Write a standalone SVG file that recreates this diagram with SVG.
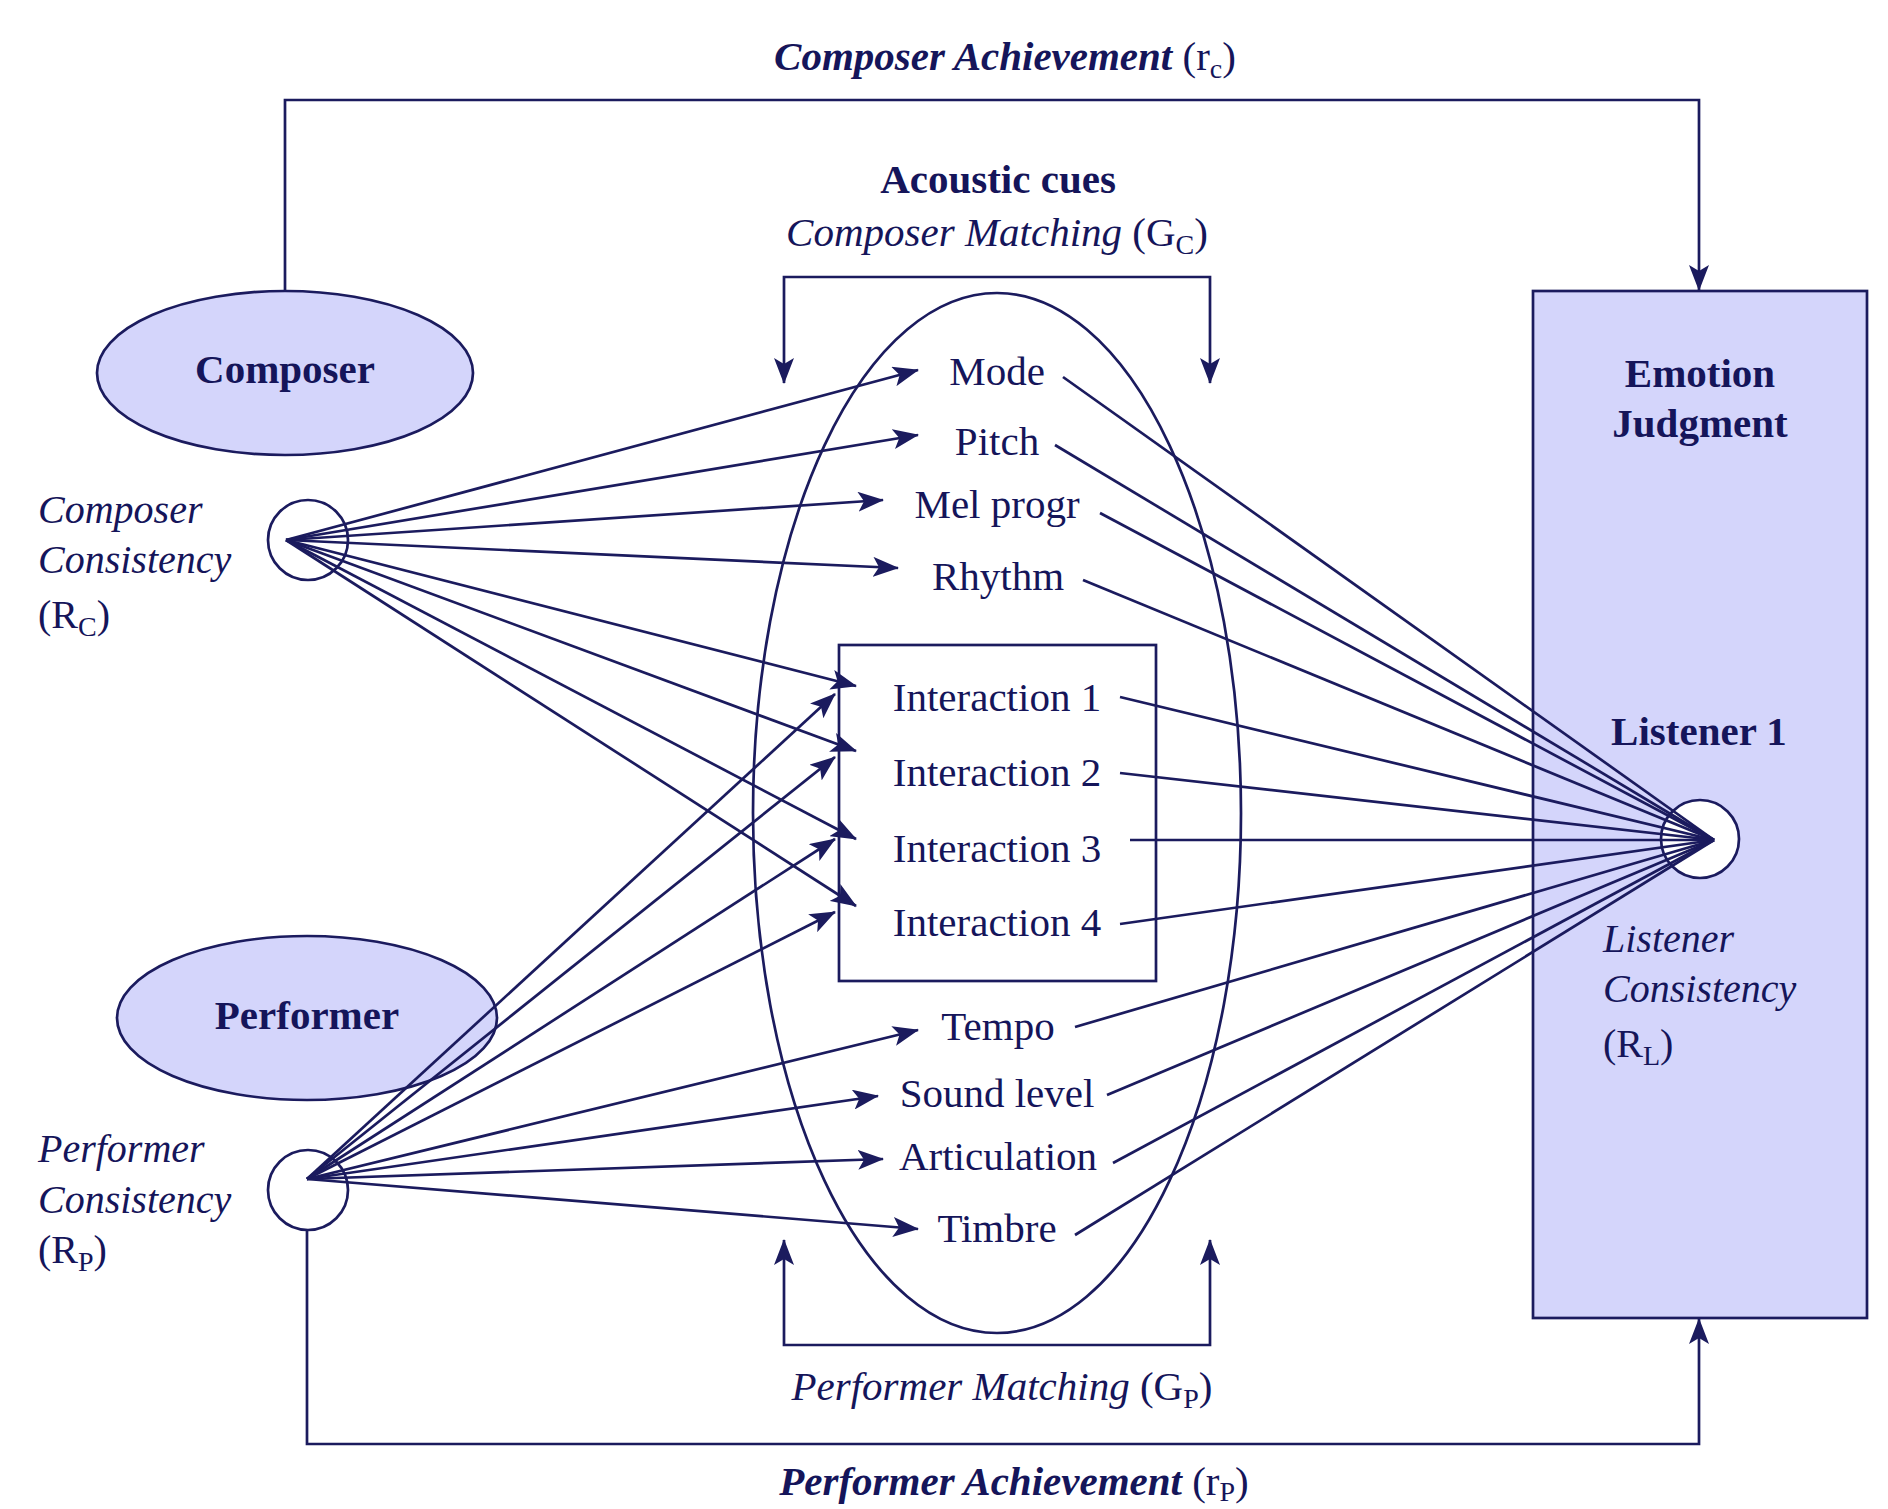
<svg xmlns="http://www.w3.org/2000/svg" width="1888" height="1509" viewBox="0 0 1888 1509">
<style>
.ln{stroke:#1b1b5e;stroke-width:2.7;fill:none}
.arr{marker-end:url(#ah)}
.fillnode{fill:#d4d5fb;stroke:#1b1b5e;stroke-width:2.7}
.t{font-family:"Liberation Serif","Times New Roman",serif;fill:#15155a}
.cue{font-size:41px;text-anchor:middle}
.b{font-weight:bold;font-size:41px;text-anchor:middle}
.it{font-style:italic;font-size:40px}
.sub{font-size:28px}
</style>
<defs>
<marker id="ah" viewBox="0 0 26 20" refX="25" refY="10" markerWidth="26" markerHeight="20" markerUnits="userSpaceOnUse" orient="auto">
<path d="M0,0 L26,10 L0,20 L6,10 z" fill="#1b1b5e"/>
</marker>
</defs>
<rect width="1888" height="1509" fill="#ffffff"/>

<g id="emotion-judgment">
<rect x="1533" y="291" width="334" height="1027" class="fillnode" stroke-width="3"/>
<text class="t b" x="1700" y="387">Emotion</text>
<text class="t b" x="1700" y="437">Judgment</text>
<text class="t b" x="1699" y="745">Listener 1</text>
<circle cx="1700" cy="839" r="39" fill="#ffffff" stroke="#1b1b5e" stroke-width="2.7"/>
<text class="t it" x="1603" y="952">Listener</text>
<text class="t it" x="1603" y="1002">Consistency</text>
<text class="t" x="1603" y="1057" font-size="40">(R<tspan class="sub" dy="8">L</tspan><tspan dy="-8">)</tspan></text>
</g>

<g id="composer">
<ellipse cx="285" cy="373" rx="188" ry="82" class="fillnode"/>
<text class="t b" x="285" y="383">Composer</text>
</g>

<g id="performer">
<ellipse cx="307" cy="1018" rx="190" ry="82" class="fillnode"/>
<text class="t b" x="307" y="1029">Performer</text>
</g>

<g id="composer-consistency">
<circle cx="308" cy="540" r="40" fill="#ffffff" stroke="#1b1b5e" stroke-width="2.7"/>
<text class="t it" x="38" y="523">Composer</text>
<text class="t it" x="38" y="573">Consistency</text>
<text class="t" x="38" y="628" font-size="40">(R<tspan class="sub" dy="8">C</tspan><tspan dy="-8">)</tspan></text>
</g>

<g id="performer-consistency">
<circle cx="308" cy="1190" r="40" fill="#ffffff" stroke="#1b1b5e" stroke-width="2.7"/>
<text class="t it" x="38" y="1162">Performer</text>
<text class="t it" x="38" y="1213">Consistency</text>
<text class="t" x="38" y="1263" font-size="40">(R<tspan class="sub" dy="8">P</tspan><tspan dy="-8">)</tspan></text>
</g>

<g id="acoustic-cues">
<ellipse cx="997" cy="813" rx="244" ry="520" class="ln"/>
<text class="t b" x="998" y="193" font-size="40">Acoustic cues</text>
<text class="t cue" x="997" y="385">Mode</text>
<text class="t cue" x="997" y="455">Pitch</text>
<text class="t cue" x="997" y="518">Mel progr</text>
<text class="t cue" x="998" y="590">Rhythm</text>
<text class="t cue" x="998" y="1040">Tempo</text>
<text class="t cue" x="997" y="1107">Sound level</text>
<text class="t cue" x="998" y="1170">Articulation</text>
<text class="t cue" x="997" y="1242">Timbre</text>
</g>

<g id="interactions">
<rect x="839" y="645" width="317" height="336" class="ln"/>
<text class="t cue" x="997" y="711">Interaction 1</text>
<text class="t cue" x="997" y="786">Interaction 2</text>
<text class="t cue" x="997" y="862">Interaction 3</text>
<text class="t cue" x="997" y="936">Interaction 4</text>
</g>

<g id="labels">
<text class="t" x="1005" y="70" font-size="41" text-anchor="middle"><tspan font-style="italic" font-weight="bold">Composer Achievement</tspan> (r<tspan class="sub" dy="8">c</tspan><tspan dy="-8">)</tspan></text>
<text class="t" x="997" y="246" font-size="41" text-anchor="middle"><tspan font-style="italic">Composer Matching</tspan> (G<tspan class="sub" dy="8">C</tspan><tspan dy="-8">)</tspan></text>
<text class="t" x="1002" y="1400" font-size="41" text-anchor="middle"><tspan font-style="italic">Performer Matching</tspan> (G<tspan class="sub" dy="8">P</tspan><tspan dy="-8">)</tspan></text>
<text class="t" x="1014" y="1495" font-size="41" text-anchor="middle"><tspan font-style="italic" font-weight="bold">Performer Achievement</tspan> (r<tspan class="sub" dy="6">P</tspan><tspan dy="-6">)</tspan></text>
</g>

<g id="connectors">
<path class="ln arr" d="M285,291 V100 H1699 V290"/>
<path class="ln arr" d="M307,1230 V1444 H1699 V1319"/>
<path class="ln arr" d="M997,277 H784 V383"/>
<path class="ln arr" d="M997,277 H1210 V383"/>
<path class="ln arr" d="M997,1345 H784 V1240"/>
<path class="ln arr" d="M997,1345 H1210 V1240"/>

<line class="ln arr" x1="286" y1="540" x2="918" y2="370"/>
<line class="ln arr" x1="286" y1="540" x2="918" y2="435"/>
<line class="ln arr" x1="286" y1="540" x2="883" y2="500"/>
<line class="ln arr" x1="286" y1="540" x2="898" y2="568"/>
<line class="ln arr" x1="286" y1="540" x2="856" y2="686"/>
<line class="ln arr" x1="286" y1="540" x2="856" y2="751"/>
<line class="ln arr" x1="286" y1="540" x2="856" y2="839"/>
<line class="ln arr" x1="286" y1="540" x2="856" y2="906"/>

<line class="ln arr" x1="307" y1="1179" x2="835" y2="694"/>
<line class="ln arr" x1="307" y1="1179" x2="835" y2="757"/>
<line class="ln arr" x1="307" y1="1179" x2="835" y2="839"/>
<line class="ln arr" x1="307" y1="1179" x2="835" y2="912"/>
<line class="ln arr" x1="307" y1="1179" x2="918" y2="1030"/>
<line class="ln arr" x1="307" y1="1179" x2="878" y2="1096"/>
<line class="ln arr" x1="307" y1="1179" x2="883" y2="1159"/>
<line class="ln arr" x1="307" y1="1179" x2="918" y2="1229"/>

<line class="ln" x1="1063" y1="377" x2="1714" y2="840"/>
<line class="ln" x1="1055" y1="445" x2="1714" y2="840"/>
<line class="ln" x1="1100" y1="513" x2="1714" y2="840"/>
<line class="ln" x1="1083" y1="580" x2="1714" y2="840"/>
<line class="ln" x1="1120" y1="697" x2="1714" y2="840"/>
<line class="ln" x1="1120" y1="773" x2="1714" y2="840"/>
<line class="ln" x1="1130" y1="840" x2="1714" y2="840"/>
<line class="ln" x1="1120" y1="924" x2="1714" y2="840"/>
<line class="ln" x1="1075" y1="1027" x2="1714" y2="840"/>
<line class="ln" x1="1107" y1="1095" x2="1714" y2="840"/>
<line class="ln" x1="1113" y1="1163" x2="1714" y2="840"/>
<line class="ln" x1="1075" y1="1235" x2="1714" y2="840"/>
</g>
</svg>
